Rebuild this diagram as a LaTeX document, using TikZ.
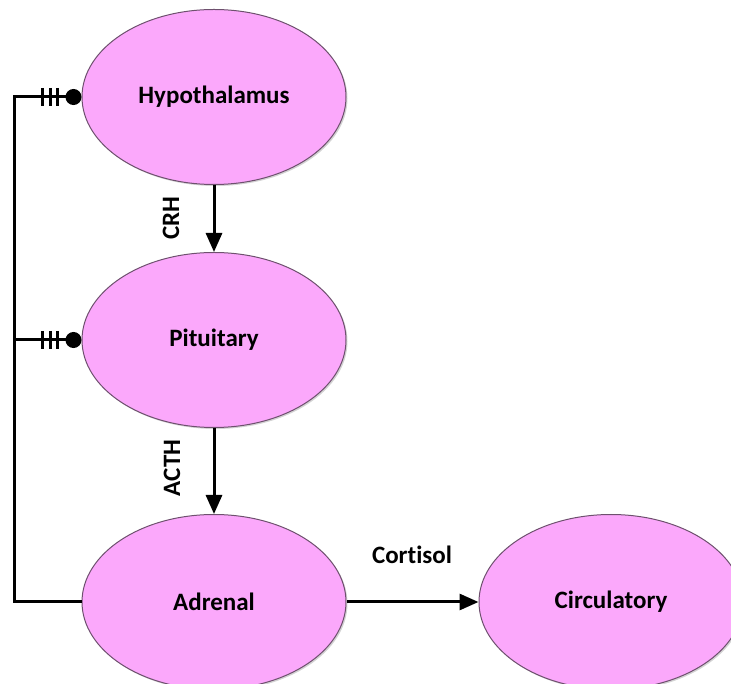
\documentclass[tikz,border=0pt]{standalone}
\usepackage{fontspec}
\setmainfont{Carlito}[Ligatures=NoCommon]
\usetikzlibrary{shapes.geometric,arrows.meta,positioning,calc,shadows}
\definecolor{organpink}{RGB}{251,168,251}
\definecolor{organrim}{RGB}{110,80,110}

\begin{document}
\begin{tikzpicture}[x=1pt, y=1pt,
    % Node styles
    organ/.style={ellipse, draw=organrim, line width=1pt, fill=organpink,
                  minimum width=264pt, minimum height=175pt,
                  drop shadow={opacity=0.35, shadow xshift=1.5pt, shadow yshift=-1.5pt},
                  font=\fontsize{25}{30}\selectfont\bfseries},
    hormone/.style={font=\fontsize{25}{30}\selectfont\bfseries},
    arrow/.style={line width=3pt, -{Triangle[length=19pt,width=16pt]}, black},
    feedback/.style={line width=3pt, black,
                     -{Bar[width=18pt,sep=4.5pt]Bar[width=18pt,sep=4.5pt]Bar[width=18pt,sep=6.5pt]Circle[length=16pt]}},
    plainline/.style={line width=3pt, black}
]
\useasboundingbox (0,0) rectangle (731,683);

% 1. Hypothalamus
\node[organ] (hypo) at (214,586) {Hypothalamus};

% 2. Pituitary
\node[organ, below=67pt of hypo] (pit) {Pituitary};

% 3. Adrenal
\node[organ, below=86pt of pit] (adrenal) {Adrenal};

% 4. Circulatory
\node[organ, right=132pt of adrenal] (circ) {Circulatory};

% Hormone labels
\node[hormone, rotate=90] (crh) at (171,465) {CRH};
\node[hormone, rotate=90] (acth) at (172,215) {ACTH};
\node[hormone] (cortisol) at (412,128) {Cortisol};

% Main flow arrows
\draw[arrow] (hypo) -- (pit);
\draw[arrow] (pit) -- (adrenal);
\draw[arrow] (adrenal) -- (circ);

% Feedback loop
\coordinate (fbbottom) at ($(adrenal.west)+(-67,0)$);
\coordinate (fbpit) at (fbbottom |- pit.west);
\draw[plainline] (adrenal.west) -- (fbbottom) -- (fbpit);
\draw[feedback] (fbpit) |- (hypo.west);
\draw[feedback] (fbpit) -- (pit.west);

\end{tikzpicture}
\end{document}
